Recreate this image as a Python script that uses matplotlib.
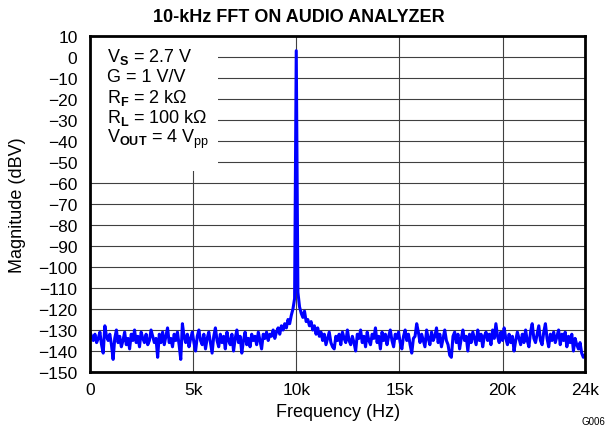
import numpy as np
import matplotlib
matplotlib.use("Agg")
import matplotlib.pyplot as plt
from matplotlib.patches import Rectangle

plt.rcParams['font.family'] = ['Liberation Sans', 'DejaVu Sans']
plt.rcParams['mathtext.fontset'] = 'custom'
plt.rcParams['mathtext.rm'] = 'Liberation Sans'
plt.rcParams['mathtext.bf'] = 'Liberation Sans:bold'
plt.rcParams['mathtext.it'] = 'Liberation Sans:italic'

# ---- data ----
title = "10-kHz FFT ON AUDIO ANALYZER"
x_label = "Frequency (Hz)"
y_label = "Magnitude (dBV)"
freq_start_hz = 0
freq_stop_hz = 24000
magnitude_dbv = [
    -131, -133, -135, -132, -136, -134, -131, -137, -141, -128, -133, -135, -132, -137, -144, -134, -130, -136, -133, -138,
    -135, -131, -137, -134, -139, -132, -135, -130, -136, -133, -138, -131, -134, -136, -132, -137, -135, -130, -133, -136,
    -134, -143, -132, -136, -131, -137, -133, -129, -136, -134, -138, -132, -135, -131, -137, -144, -127, -133, -136, -132,
    -138, -134, -131, -136, -140, -133, -130, -135, -137, -132, -139, -134, -131, -136, -141, -133, -129, -135, -138, -132,
    -136, -133, -139, -131, -135, -137, -132, -140, -134, -130, -136, -133, -141, -135, -131, -137, -134, -138, -132, -135,
    -133, -137, -131, -135, -139, -132, -134, -131, -135, -132, -133, -130, -134, -131, -129, -132, -128, -130, -127, -129,
    -125, -127, -123, -120, -115,
    3,
    -112, -119, -122, -124, -121, -126, -125, -128, -126, -130, -128, -132, -129, -133,
    -131, -135, -132, -137, -134, -131, -136, -138, -139, -133, -135, -132, -137, -131, -134, -136, -130, -135, -137, -133,
    -136, -140, -132, -134, -130, -136, -133, -138, -131, -135, -137, -132, -134, -129, -136, -133, -139, -131, -135, -132,
    -137, -133, -130, -135, -138, -132, -134, -131, -136, -139, -133, -130, -135, -132, -137, -141, -134, -133, -127, -131,
    -136, -132, -135, -138, -130, -134, -137, -131, -135, -133, -129, -136, -132, -138, -134, -130, -135, -137, -142, -143,
    -133, -131, -136, -132, -139, -134, -130, -135, -133, -140, -132, -136, -131, -134, -137, -130, -135, -132, -138, -133,
    -131, -135, -132, -137, -130, -134, -127, -133, -136, -131, -135, -129, -134, -137, -132, -136, -133, -140, -135, -131,
    -134, -137, -132, -136, -130, -135, -138, -131, -127, -134, -136, -132, -128, -135, -137, -131, -127, -134, -138, -132,
    -135, -131, -136, -133, -130, -137, -132, -135, -131, -138, -133, -136, -132, -140, -134, -137, -139, -136, -141, -143, -142,
]
x_ticks = [0, 5000, 10000, 15000, 20000, 24000]
x_tick_labels = ["0", "5k", "10k", "15k", "20k", "24k"]
x_grid = [5000, 10000, 15000, 20000]
y_ticks = list(range(-150, 11, 10))
conditions = [
    r"V$_\mathbf{S}$ = 2.7 V",
    r"G = 1 V/V",
    r"R$_\mathbf{F}$ = 2 kΩ",
    r"R$_\mathbf{L}$ = 100 kΩ",
    r"V$_\mathbf{OUT}$ = 4 V$_\mathrm{pp}$",
]
fig_code = "G006"

freq_hz = np.linspace(freq_start_hz, freq_stop_hz, len(magnitude_dbv))

# ---- figure ----
W, H = 612, 431
fig = plt.figure(figsize=(W / 100, H / 100), dpi=100)
ax = fig.add_axes([90 / W, 1 - 373 / H, 495 / W, 336 / H])

ax.set_xlim(0, 24000)
ax.set_ylim(-150, 10)

# grid
for xv in x_grid:
    ax.axvline(xv, color='#404040', lw=0.8, zorder=0.5)
for yv in y_ticks:
    ax.axhline(yv, color='#404040', lw=0.8, zorder=0.5)

# white box behind condition text
ax.add_patch(Rectangle((0, -54.5), 6200, 64.5, facecolor='white', edgecolor='none', zorder=1))

ax.plot(freq_hz, magnitude_dbv, color='#0000FF', lw=2.2, zorder=3)

ax.set_xticks(x_ticks)
ax.set_xticklabels(x_tick_labels)
ax.set_yticks(y_ticks)
ax.set_yticklabels([str(v).replace('-', '\u2212') for v in y_ticks])
ax.tick_params(axis='both', length=0, labelsize=12.5, colors='black')
ax.tick_params(axis='y', pad=9)
ax.tick_params(axis='x', pad=7)

for s in ax.spines.values():
    s.set_linewidth(2.0)
    s.set_color('black')
    s.set_zorder(4)

fig.text(299 / W, 1 - 18 / H, title, fontsize=13, fontweight='bold', ha='center', va='center')
fig.text(338 / W, 1 - 413 / H, x_label, fontsize=13, ha='center', va='center')
fig.text(18 / W, 1 - 205 / H, y_label, fontsize=13, ha='center', va='center', rotation=90)

y0 = 57
for i, t in enumerate(conditions):
    fig.text(107 / W, 1 - (y0 + 20.5 * i) / H, t, fontsize=13, va='center', ha='left')

fig.text(605 / W, 1 - 422 / H, fig_code, fontsize=7, ha='right', va='center')

fig.savefig("out.png", dpi=100)
